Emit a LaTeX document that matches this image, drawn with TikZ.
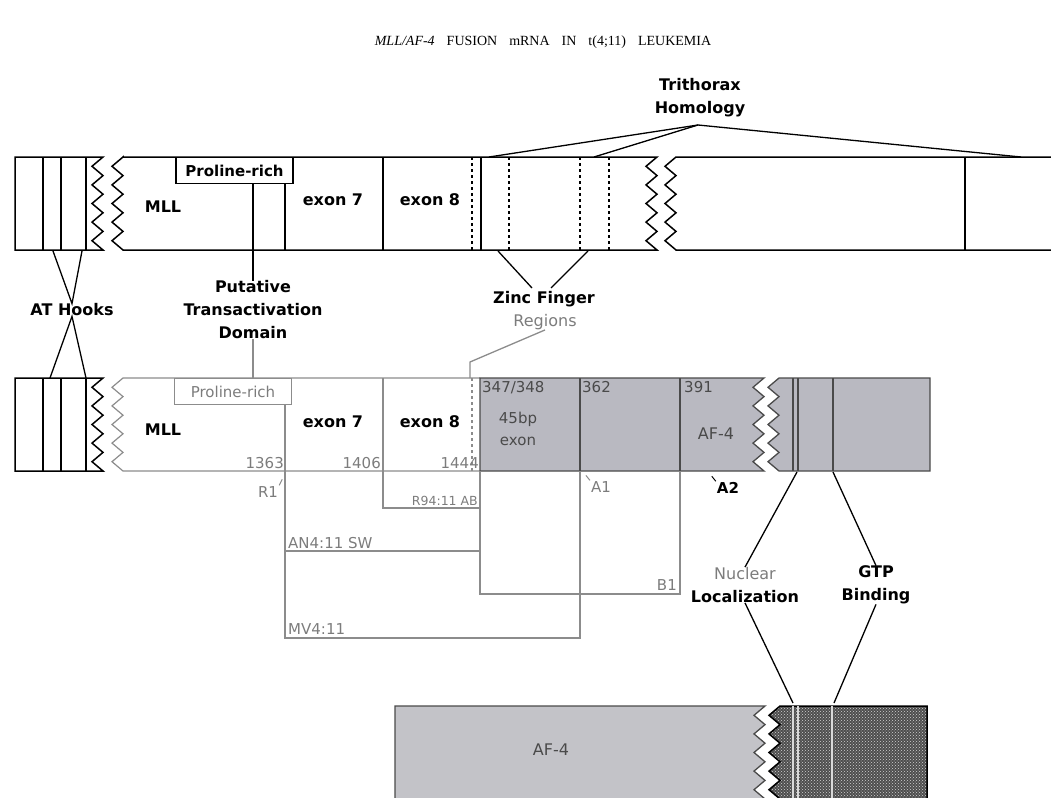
\documentclass[tikz,border=0pt]{standalone}
\usepackage{fontspec}
\setmainfont{DejaVu Sans}
\newfontfamily\headfont{Liberation Serif}
\usepackage{tikz}
\usetikzlibrary{patterns, calc}
\definecolor{mllgray}{HTML}{8C8C8C}
\definecolor{txtgray}{HTML}{7C7C7C}
\definecolor{afshade}{HTML}{B9B9C1}
\definecolor{afshadelow}{HTML}{C3C3C8}
\definecolor{afline}{HTML}{4A4A4A}
\definecolor{afdark}{HTML}{4E4E4E}
\tikzstyle{lbl} = [font=\fontsize{16}{23}\selectfont\bfseries, align=center, inner sep=0pt]
\tikzstyle{glbl} = [font=\fontsize{16}{23}\selectfont, text=txtgray, align=center, inner sep=0pt]
\tikzstyle{numlbl} = [font=\fontsize{15}{17}\selectfont, text=txtgray, inner sep=1pt]
\tikzstyle{afnum} = [font=\fontsize{15}{22}\selectfont, text=afline, inner sep=1pt, align=center]
\tikzstyle{probox} = [rectangle, minimum width=117pt, minimum height=26pt, inner sep=0pt]
\tikzstyle{barline} = [draw=black, line width=1.5pt]
\tikzstyle{mllline} = [draw=mllgray, line width=1.2pt]
\tikzstyle{fragline} = [draw=mllgray, line width=1.3pt]
\tikzstyle{dotline} = [line width=1.3pt, dash pattern=on 3pt off 3pt]
\tikzstyle{lead} = [line width=1.3pt]
% zigzag break edges (five teeth over one bar height)
\newcommand{\zzdown}{-- ++(-11,9.3) -- ++(11,9.3) -- ++(-11,9.3) -- ++(11,9.3) -- ++(-11,9.3) -- ++(11,9.3) -- ++(-11,9.3) -- ++(11,9.3) -- ++(-11,9.3) -- ++(11,9.3)}
\newcommand{\zzup}{-- ++(-11,-9.3) -- ++(11,-9.3) -- ++(-11,-9.3) -- ++(11,-9.3) -- ++(-11,-9.3) -- ++(11,-9.3) -- ++(-11,-9.3) -- ++(11,-9.3) -- ++(-11,-9.3) -- ++(11,-9.3)}

\begin{document}
\begin{tikzpicture}[x=1pt, y=-1pt]
  \useasboundingbox (0,0) rectangle (1051,797);
  \clip (0,0) rectangle (1051,797);

  % Title
  \node (title) at (543,42) {\headfont\fontsize{14}{16}\selectfont
    \textit{MLL/AF-4}\hspace{12pt}FUSION\hspace{12pt}mRNA\hspace{12pt}IN\hspace{12pt}t(4;11)\hspace{12pt}LEUKEMIA};

  % MLL (top bar)
  \draw[barline] (15,157) -- (103,157) \zzdown -- (15,250) -- cycle;
  \draw[barline] (43,157) -- (43,250) (61,157) -- (61,250) (86,157) -- (86,250);
  \draw[barline] (123,157) -- (657,157) \zzdown -- (123,250) \zzup -- cycle;
  \draw[barline] (1060,157) -- (676,157) \zzdown -- (1060,250);
  \node[probox, draw, line width=1.5pt, font=\fontsize{15}{17}\selectfont\bfseries] (pro1) at (234.5,170.5) {Proline-rich};
  \draw[barline] (285,183.5) -- (285,250) (383,157) -- (383,250) (481,157) -- (481,250) (965,157) -- (965,250);
  \draw[dotline] (472,157) -- (472,250) (509,157) -- (509,250) (580,157) -- (580,250) (609,157) -- (609,250);
  \node[lbl] (mll1) at (163,207) {MLL};
  \node[lbl] (ex71) at (333,200) {exon 7};
  \node[lbl] (ex81) at (430,200) {exon 8};

  % Trithorax homology
  \node[lbl] (trx) at (700,98) {Trithorax\\Homology};
  \coordinate (apex) at (698,125);
  \coordinate (thl) at (489,157);
  \coordinate (thm) at (594,157);
  \coordinate (thr) at (1021,157);
  \draw[lead] (apex) -- (thl);
  \draw[lead] (apex) -- (thm);
  \draw[lead] (apex) -- (thr);

  % AT hooks
  \node[lbl] (at) at (72,310) {AT Hooks};
  \draw[lead] (53,251) -- (at.north) -- (82,251);
  \draw[lead] (50,378) -- (at.south) -- (86,378);

  % Putative transactivation domain
  \node[lbl] (put) at (253,310) {Putative\\Transactivation\\Domain};
  \draw[lead] (put.north) -- (put.north |- pro1.south);
  \draw[lead, mllgray] (put.south) -- (253,378);

  % Zinc finger regions
  \node[lbl] (zinc) at (544,299) {Zinc Finger};
  \node[glbl] (reg) at (545,322) {Regions};
  \draw[lead] (498,251) -- ($(zinc.north)+(-12,-3)$);
  \draw[lead] (588,251) -- ($(zinc.north)+(7,-3)$);
  \draw[lead, mllgray] (reg.south) -- (470,362) -- (470,378);

  % MLL/AF-4 fusion (middle bar)
  \draw[barline] (15,378) -- (103,378) \zzdown -- (15,471) -- cycle;
  \draw[barline] (43,378) -- (43,471) (61,378) -- (61,471) (86,378) -- (86,471);
  \draw[mllline] (480,378) -- (123,378) \zzdown -- (480,471);
  \node[probox, draw=mllgray, line width=1.2pt, font=\fontsize{15}{17}\selectfont, text=txtgray] (pro2) at (233,391.5) {Proline-rich};
  \draw[mllline] (285,405) -- (285,471) (383,378) -- (383,471);
  \draw[dotline, mllgray] (472,378) -- (472,471);
  \filldraw[fill=afshade, draw=afline, line width=1.3pt] (480,378) -- (764,378) \zzdown -- (480,471) -- cycle;
  \filldraw[fill=afshade, draw=afline, line width=1.3pt] (930,378) -- (779,378) \zzdown -- (930,471) -- cycle;
  \draw[afline, line width=1.3pt] (580,378) -- (580,471) (680,378) -- (680,471)
    (793,378) -- (793,471) (798,378) -- (798,471) (833,378) -- (833,471);
  \node[lbl] (mll2) at (163,430) {MLL};
  \node[lbl] (ex72) at (333,422) {exon 7};
  \node[lbl] (ex82) at (430,422) {exon 8};
  \node[numlbl, anchor=south east] (n1363) at (285,470) {1363};
  \node[numlbl, anchor=south east] (n1406) at (382,470) {1406};
  \node[numlbl, anchor=south east] (n1444) at (480,470) {1444};
  \node[afnum, anchor=north west] (n347) at (481,380) {347/348};
  \node[afnum] (bp45) at (518,429) {45bp\\exon};
  \node[afnum, anchor=north west] (n362) at (581,380) {362};
  \node[afnum, anchor=north west] (n391) at (683,380) {391};
  \node[lbl, font=\fontsize{16}{18}\selectfont, text=afline] (af2) at (716,434) {AF-4};

  % breakpoint fragments
  \draw[fragline] (285,471) -- (285,638) -- (580,638) -- (580,471);
  \draw[fragline] (383,471) -- (383,508) -- (480,508);
  \draw[fragline] (285,551) -- (480,551);
  \draw[fragline] (480,471) -- (480,594) -- (680,594) -- (680,471);
  \node[numlbl] (r1) at (268,492) {R1};
  \node[numlbl, font=\fontsize{12.5}{14}\selectfont, anchor=south east] (r94) at (479,507) {R94:11 AB};
  \node[numlbl] (a1) at (601,487) {A1};
  \node[numlbl, text=black, font=\fontsize{15}{17}\selectfont\bfseries] (a2) at (728,488) {A2};
  \node[numlbl, anchor=south west] (an4) at (287,550) {AN4:11 SW};
  \node[numlbl, anchor=south east] (b1) at (678,592) {B1};
  \node[numlbl, anchor=south west] (mv4) at (287,636) {MV4:11};
  \draw[mllgray, line width=1pt] (r1.north east) -- ++(3,-6);
  \draw[mllgray, line width=1pt] (a1.north west) -- ++(-4,-5);
  \draw[black, line width=1pt] (a2.north west) -- ++(-4,-5);

  % Nuclear localization / GTP binding
  \node[lbl] (nuc) at (745,585) {{\mdseries\color{txtgray}Nuclear}\\Localization};
  \node[lbl] (gtp) at (876,585) {GTP\\Binding};
  \draw[lead] (797,472) -- (nuc.north);
  \draw[lead] (833,472) -- (gtp.north);
  \draw[lead] (nuc.south) -- (793,703);
  \draw[lead] (gtp.south) -- (834,703);

  % AF-4 (bottom bar)
  \filldraw[fill=afshadelow, draw=afline, line width=1.3pt] (395,800) -- (395,706) -- (765,706) \zzdown;
  \path[fill=afdark, postaction={pattern=crosshatch dots, pattern color=gray!35}] (927,706) -- (780,706) \zzdown -- (927,800) -- cycle;
  \draw[black, line width=1.5pt] (927,800) -- (927,706) -- (780,706) \zzdown;
  \draw[gray!30, line width=1.3pt] (793,706) -- (793,800) (798,706) -- (798,800) (832,706) -- (832,800);
  \node[lbl, font=\fontsize{16}{18}\selectfont, text=afline] (af3) at (551,750) {AF-4};
\end{tikzpicture}
\end{document}
